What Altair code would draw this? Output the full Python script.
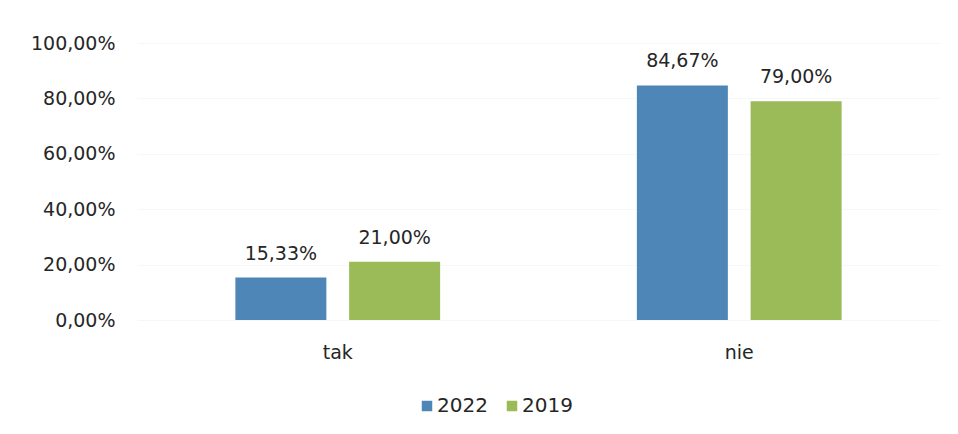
import altair as alt
import pandas as pd

categories = ["tak", "nie"]
years = ["2022", "2019"]
values_2022 = [0.1533, 0.8467]
values_2019 = [0.21, 0.79]
colors = ["#4f86b8", "#9bbb59"]

rows = []
for i, c in enumerate(categories):
    rows.append({"cat": c, "year": "2022", "value": values_2022[i]})
    rows.append({"cat": c, "year": "2019", "value": values_2019[i]})
df = pd.DataFrame(rows)

FONT = "DejaVu Sans"
TXT = "#262626"

x = alt.X("cat:N", sort=categories, title=None,
          scale=alt.Scale(paddingInner=0.49, paddingOuter=0.245),
          axis=alt.Axis(labelAngle=0, domain=False, ticks=False, grid=False, labelPadding=23,
                        labelFont=FONT, labelFontSize=19, labelColor=TXT))
xo = alt.XOffset("year:N", sort=years, scale=alt.Scale(paddingInner=0.2, paddingOuter=0))
y = alt.Y("value:Q", title=None,
          scale=alt.Scale(domain=[0, 1]),
          axis=alt.Axis(values=[0, 0.2, 0.4, 0.6, 0.8, 1.0], domain=False, ticks=False,
                        labelPadding=22, labelFont=FONT, labelFontSize=19, labelColor=TXT,
                        labelExpr="replace(format(datum.value*100, '.2f'), '.', ',') + '%'",
                        grid=True, gridColor="#f7f7f7"))
color = alt.Color("year:N", sort=years, title=None,
                  scale=alt.Scale(domain=years, range=colors),
                  legend=alt.Legend(orient="none", direction="horizontal", legendX=280, legendY=353,
                                    symbolType="square", symbolSize=110, symbolStrokeWidth=0,
                                    labelFont=FONT, labelFontSize=20, labelColor=TXT,
                                    columnPadding=14, labelOffset=0))

base = alt.Chart(df).encode(x=x, xOffset=xo, y=y)
bars = base.mark_bar().encode(color=color)
labels = base.mark_text(dy=-14, font=FONT, fontSize=19, color=TXT, baseline="bottom").encode(
    text=alt.Text("label:N")
).transform_calculate(label="replace(format(datum.value*100, '.2f'), '.', ',') + '%'")

chart = (bars + labels).properties(
    width=803, height=277,
    background="white",
    autosize=alt.AutoSizeParams(type="none"),
    padding={"left": 129, "top": 35, "right": 10, "bottom": 106},
).configure_view(stroke="transparent")

chart.save("out.html", embed_options={"renderer": "svg", "actions": False})
